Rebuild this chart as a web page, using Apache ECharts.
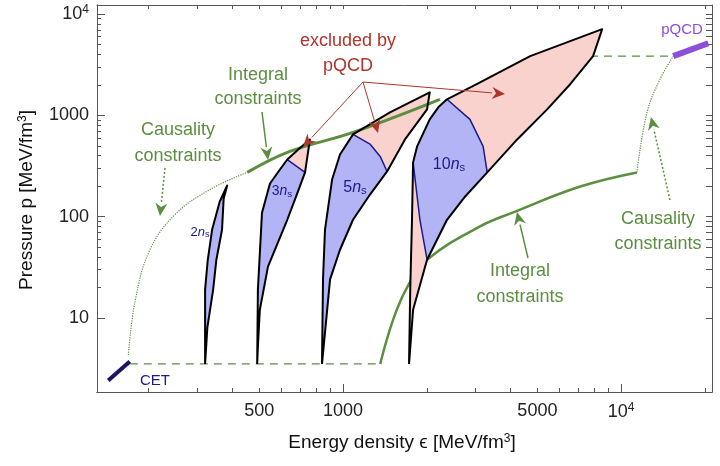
<!DOCTYPE html>
<html>
<head>
<meta charset="utf-8">
<script src="https://cdn.jsdelivr.net/npm/echarts@6/dist/echarts.min.js"></script>
<style>html,body{margin:0;padding:0;background:#fff}#chart{width:720px;height:466px}</style>
</head>
<body>
<div id="chart"></div>
<script>
// values are [energy density eps, pressure p] in MeV/fm^3
const ns2Outline = [[319,3.5],[319,19],[326,37],[338,74],[360,140],[383,203],[372,150],[367,74],[350,37],[341,19],[325,8],[319,3.5]];
const ns3Outline = [[491,3.5],[494,19],[511,109],[546,212],[593,292],[630,366],[690,460],[760,578],[730,273],[678,158],[630,93],[537,32],[502,12],[494,5.2],[491,3.5]];
const ns3Blue = [[491,3.5],[494,19],[511,109],[546,212],[593,292],[630,366],[730,273],[678,158],[630,93],[537,32],[502,12],[494,5.2]];
const ns3Divider = [[630,366],[730,273]];
const ns5Outline = [[840,3.5],[847,24],[861,74],[913,232],[975,411],[1086,649],[1475,1070],[2050,1690],[2005,1146],[1670,578],[1440,279],[1250,165],[1086,93],[975,47],[898,24],[840,3.5]];
const ns5Blue = [[840,3.5],[847,24],[861,74],[913,232],[975,411],[1086,649],[1250,520],[1360,393],[1440,279],[1250,165],[1086,93],[975,47],[898,24],[840,3.5]];
const ns5Divider = [[1086,649],[1250,520],[1360,393],[1440,279]];
const ns10Outline = [[1727,3.5],[1745,20],[1770,93],[1786,343],[1845,490],[2050,912],[2200,1200],[2365,1440],[3110,2120],[4710,3840],[6560,5410],[8550,7100],[7930,3840],[6560,2030],[5420,1146],[4230,578],[3300,273],[2750,158],[2365,93],[2005,37.5],[1786,12],[1727,3.5]];
const ns10Blue = [[2365,1440],[2200,1200],[2050,912],[1845,490],[1786,343],[1890,93],[2005,37.5],[2365,93],[2750,158],[3300,273],[3190,493],[2860,912],[2365,1440]];
const ns10DivA = [[1786,343],[1890,93],[2005,37.5]];
const ns10DivB = [[3300,273],[3190,493],[2860,912],[2365,1440]];

const integralLow = [[452,273],[644,440],[1086,679],[2230,1440]];
const causalLow = [[169,4.3],[179,15],[202,47],[249,105],[332,185],[452,273]];
const integralHigh = [[1360,3.5],[1514,9.6],[1700,20],[2005,37.5],[3110,80],[4090,110],[7130,198],[11400,273]];
const causalHigh = [[11400,273],[12400,1070],[13800,2270],[15400,3840]];
const dashLow = [[171,3.5],[1360,3.5]];
const dashHigh = [[7730,3840],[15400,3840]];
const cet = [[143,2.4],[171,3.7]];
const pqcd = [[15400,3840],[20600,5160]];

const xLabelVals = [500,1000,5000,10000];
const yLabelVals = [10,100,1000,10000];

const L = Math.log10;
const tr = a => a.map(d => [L(d[0]), L(d[1])]);

function minors(lo, hi) {
  const out = [];
  for (let e = 1; e <= 4; e++) for (let k = 1; k < 10; k++) {
    const v = L(k * Math.pow(10, e));
    if (v > lo && v < hi) out.push(v);
  }
  return out;
}
const xMin = 2.115, xMax = 4.327, yMin = 0.267, yMax = 4.09;
const majorX = [3, 4], majorY = [1, 2, 3, 4];

const font = 'Liberation Sans, Arial, sans-serif';
const PINK = '#f9d2cd', BLUE = '#b2b4f5', NAVY = '#1c1a8c', GREEN = '#5b8f3f', RED = '#b0342b', PURPLE = '#8b4fd8';

function poly(points, fill, stroke, lw, z) {
  const pts = tr(points);
  return {
    type: 'custom', data: [0], z: z, silent: true,
    renderItem: (params, api) => ({
      type: stroke && !fill ? 'polyline' : 'polygon',
      shape: { points: pts.map(p => api.coord(p)) },
      style: { fill: fill || 'none', stroke: stroke || 'none', lineWidth: lw || 0, lineJoin: 'round' }
    })
  };
}
function line(points, color, width, type, smooth, z) {
  return { type: 'line', data: tr(points), symbol: 'none', smooth: smooth ? 0.4 : false, z: z || 3,
    silent: true, lineStyle: { color: color, width: width, type: type || 'solid' } };
}

const sup = v => v === 10000 ? '{b|10}{s|4}' : '{b|' + v + '}';
const rich = { b: { fontSize: 18, fontFamily: font, color: '#222' }, s: { fontSize: 12, fontFamily: font, color: '#222', verticalAlign: 'top', padding: [0,0,8,0] } };

function arrow(x1, y1, x2, y2, color, dashed, w) {
  const a = Math.atan2(y2 - y1, x2 - x1), hl = 13, hw = 6;
  const bx = x2 - hl * Math.cos(a), by = y2 - hl * Math.sin(a);
  return [
    { type: 'line', shape: { x1: x1, y1: y1, x2: bx, y2: by }, style: { stroke: color, lineWidth: w || 1.5, lineDash: dashed ? [2, 2] : null }, z: 20 },
    { type: 'polygon', shape: { points: [[x2, y2], [bx - hw * Math.sin(a), by + hw * Math.cos(a)], [bx + 4 * Math.cos(a), by + 4 * Math.sin(a)], [bx + hw * Math.sin(a), by - hw * Math.cos(a)]] }, style: { fill: color }, z: 20 }
  ];
}
function txt(x, y, s, color, size, align) {
  return { type: 'text', x: x, y: y, z: 20, style: { text: s, fill: color, font: (size || 17) + 'px ' + font, textAlign: align || 'center', textVerticalAlign: 'middle' } };
}
function nsLabel(x, y, n, size) {
  return { type: 'text', x: x, y: y, z: 20, style: { text: '{a|' + n + '}{i|n}{s|s}', textAlign: 'center', textVerticalAlign: 'middle',
    rich: { a: { fontSize: size, fontFamily: font, fill: NAVY }, i: { fontSize: size, fontFamily: font, fontStyle: 'italic', fill: NAVY }, s: { fontSize: size * 0.7, fontFamily: font, fill: NAVY, verticalAlign: 'bottom', padding: [size * 0.4, 0, 0, 0] } } } };
}

const graphic = [].concat(
  txt(348, 41, 'excluded by', RED, 18), txt(348, 66, 'pQCD', RED, 18),
  arrow(363, 82, 303, 147, RED, false, 1), arrow(363, 82, 378, 133, RED, false, 1), arrow(363, 82, 505, 94, RED, false, 1),
  txt(258, 75, 'Integral', GREEN, 18), txt(258, 99, 'constraints', GREEN, 18),
  arrow(262, 112, 268, 160, GREEN, false, 1.5),
  txt(178, 130, 'Causality', GREEN, 18), txt(178, 156, 'constraints', GREEN, 18),
  arrow(165, 168, 160, 216, GREEN, true, 1.5),
  txt(520, 271, 'Integral', GREEN, 18), txt(520, 297, 'constraints', GREEN, 18),
  arrow(528, 258, 517, 212, GREEN, false, 1.5),
  txt(658, 219, 'Causality', GREEN, 18), txt(658, 244, 'constraints', GREEN, 18),
  arrow(670, 200, 651, 117, GREEN, true, 1.5),
  txt(140, 381, 'CET', NAVY, 15, 'left'), txt(682, 30, 'pQCD', PURPLE, 15),
  nsLabel(200, 232, 2, 13), nsLabel(282, 191, 3, 14), nsLabel(355, 188, 5, 16), nsLabel(449, 165, 10, 16),
  { type: 'text', x: 27, y: 200, rotation: Math.PI / 2, z: 20, style: { text: '{t|Pressure p [MeV/fm}{u|3}{t|]}', textAlign: 'center', textVerticalAlign: 'middle',
    rich: { t: { fontSize: 19, fontFamily: font, fill: '#111' }, u: { fontSize: 12, fontFamily: font, fill: '#111', verticalAlign: 'top', padding: [0, 0, 8, 0] } } } },
  { type: 'text', x: 402, y: 443, z: 20, style: { text: '{t|Energy density ϵ [MeV/fm}{u|3}{t|]}', textAlign: 'center', textVerticalAlign: 'middle',
    rich: { t: { fontSize: 19, fontFamily: font, fill: '#111' }, u: { fontSize: 12, fontFamily: font, fill: '#111', verticalAlign: 'top', padding: [0, 0, 8, 0] } } } }
);

const axisLine = { show: true, lineStyle: { color: '#555', width: 1 } };
const option = {
  animation: false,
  grid: { left: 97, right: 8, top: 5, bottom: 74 },
  xAxis: [
    { type: 'value', min: xMin, max: xMax, position: 'bottom', axisLine: axisLine, splitLine: { show: false },
      axisTick: { inside: true, length: 8, customValues: majorX, lineStyle: { color: '#555' } },
      axisLabel: { customValues: xLabelVals.map(L), formatter: v => sup(Math.round(Math.pow(10, v))), rich: rich, margin: 10 } },
    { type: 'value', min: xMin, max: xMax, position: 'bottom', axisLine: axisLine, splitLine: { show: false },
      axisTick: { inside: true, length: 4, customValues: minors(xMin, xMax), lineStyle: { color: '#555' } }, axisLabel: { show: false } },
    { type: 'value', min: xMin, max: xMax, position: 'top', axisLine: axisLine, splitLine: { show: false },
      axisTick: { inside: true, length: 4, customValues: minors(xMin, xMax), lineStyle: { color: '#555' } }, axisLabel: { show: false } }
  ],
  yAxis: [
    { type: 'value', min: yMin, max: yMax, position: 'left', axisLine: axisLine, splitLine: { show: false },
      axisTick: { inside: true, length: 8, customValues: majorY, lineStyle: { color: '#555' } },
      axisLabel: { customValues: yLabelVals.map(L), formatter: v => sup(Math.round(Math.pow(10, v))), rich: rich, margin: 8 } },
    { type: 'value', min: yMin, max: yMax, position: 'left', axisLine: axisLine, splitLine: { show: false },
      axisTick: { inside: true, length: 4, customValues: minors(yMin, yMax), lineStyle: { color: '#555' } }, axisLabel: { show: false } },
    { type: 'value', min: yMin, max: yMax, position: 'right', axisLine: axisLine, splitLine: { show: false },
      axisTick: { inside: true, length: 6, customValues: minors(yMin, yMax), lineStyle: { color: '#555' } }, axisLabel: { show: false } }
  ],
  series: [
    line(dashLow, GREEN, 1.2, [8, 6], false, 2),
    line(dashHigh, GREEN, 1.2, [8, 6], false, 2),
    line(integralHigh, GREEN, 2.5, 'solid', true, 2),
    poly(ns2Outline, BLUE, null, 0, 4),
    poly(ns3Outline, PINK, null, 0, 4), poly(ns3Blue, BLUE, null, 0, 5),
    poly(ns5Outline, PINK, null, 0, 4), poly(ns5Blue, BLUE, null, 0, 5),
    poly(ns10Outline, PINK, null, 0, 4), poly(ns10Blue, BLUE, null, 0, 5),
    line(integralLow, GREEN, 3, 'solid', true, 6),
    line(causalLow, GREEN, 1.2, 'dotted', true, 6),
    line(causalHigh, GREEN, 1.2, 'dotted', true, 6),
    poly(ns3Divider, null, NAVY, 1.5, 7), poly(ns5Divider, null, NAVY, 1.5, 7),
    poly(ns10DivA, null, NAVY, 1.5, 7), poly(ns10DivB, null, NAVY, 1.5, 7),
    poly(ns2Outline, null, '#000', 2, 8), poly(ns3Outline, null, '#000', 2, 8),
    poly(ns5Outline, null, '#000', 2, 8), poly(ns10Outline, null, '#000', 2, 8),
    line(cet, '#1a1660', 4, 'solid', false, 9),
    line(pqcd, PURPLE, 6, 'solid', false, 9)
  ],
  graphic: graphic
};
echarts.init(document.getElementById('chart')).setOption(option);
</script>
</body>
</html>
